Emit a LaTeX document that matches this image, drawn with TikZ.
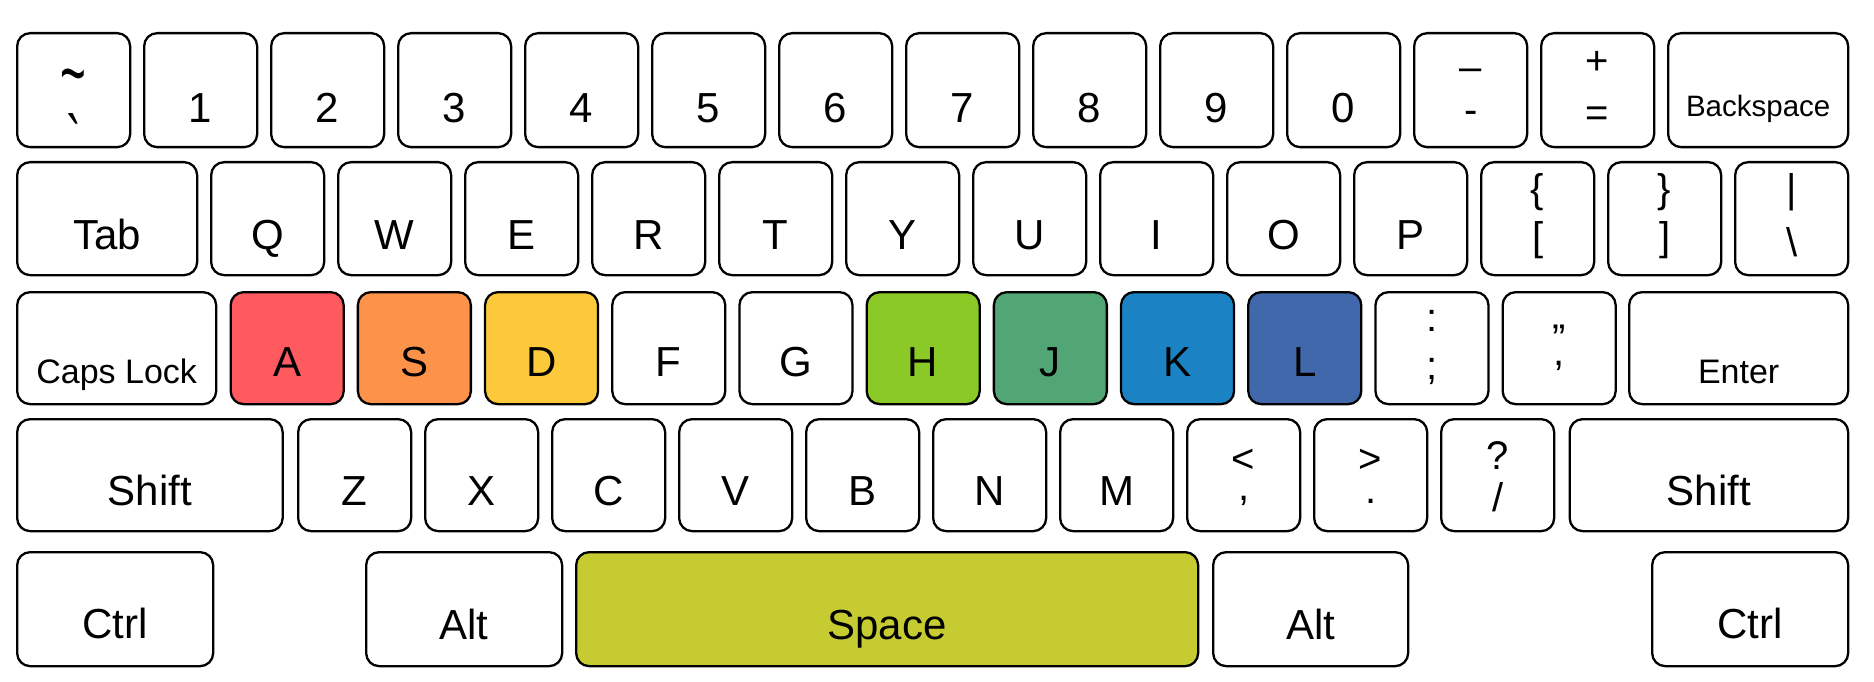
\documentclass[tikz,border=0pt]{standalone}
\usepackage{fontspec}
\setmainfont{Liberation Sans}
\usetikzlibrary{calc}
\definecolor{cA}{RGB}{255,90,95}
\definecolor{cS}{RGB}{253,146,74}
\definecolor{cD}{RGB}{252,201,58}
\definecolor{cH}{RGB}{139,201,38}
\definecolor{cJ}{RGB}{82,165,116}
\definecolor{cK}{RGB}{27,130,196}
\definecolor{cL}{RGB}{66,104,172}
\definecolor{cSp}{RGB}{197,203,48}
\tikzset{
  keybox/.style={draw=black, line width=2.3pt, rounded corners=13pt, rectangle, inner sep=0pt, anchor=north west},
  lab/.style={inner sep=0pt, anchor=base, font=\fontsize{42}{42}\selectfont},
  sym/.style={inner sep=0pt, anchor=base, font=\fontsize{40}{40}\selectfont},
  mid/.style={inner sep=0pt, anchor=base, font=\fontsize{34}{34}\selectfont},
  small/.style={inner sep=0pt, anchor=base, font=\fontsize{29.5}{29.5}\selectfont},
}
% key: name, x, y, width, height, fill
\newcommand\kbKey[6]{\node[keybox, fill=#6, minimum width=#4pt, minimum height=#5pt] (#1) at (#2,#3) {};}
% label: [style] name, key, baseline offset, text
\newcommand\kbLab[5][lab]{\node[#1] (#2) at ($(#3.north)+(0,#4)$) {#5};}
\begin{document}
\begin{tikzpicture}[x=1pt,y=-1pt]
\useasboundingbox (0,0) rectangle (1874,682);
\fill[white] (0,0) rectangle (1874,682);
% ---------- row 1
\kbKey{tl}{16}{32}{113}{114}{white}
\kbLab[sym]{tlu}{tl}{69}{\scalebox{1.1}[2]{\textasciitilde}}
\kbLab[sym]{tld}{tl}{134}{\scalebox{1.1}[1.8]{\textasciigrave}}
\foreach \i/\t in {1/1,2/2,3/3,4/4,5/5,6/6,7/7,8/8,9/9,10/0}{
  \kbKey{d\i}{16+127*\i}{32}{113}{114}{white}
  \kbLab{d\i t}{d\i}{91}{\t}
}
\kbKey{mn}{16+127*11}{32}{113}{114}{white}
\kbLab[sym]{mnu}{mn}{48.5}{\textendash}
\kbLab[sym]{mnd}{mn}{92}{-}
\kbKey{eq}{16+127*12}{32}{113}{114}{white}
\kbLab[sym]{equ}{eq}{42.8}{+}
\kbLab[sym]{eqd}{eq}{95}{=}
\kbKey{bs}{1667}{32}{180}{114}{white}
\kbLab[small]{bst}{bs}{85}{Backspace}
% ---------- row 2
\kbKey{tab}{16}{161}{180}{113}{white}
\kbLab{tabt}{tab}{88}{Tab}
\foreach \i/\t in {0/Q,1/W,2/E,3/R,4/T,5/Y,6/U,7/I,8/O,9/P}{
  \kbKey{q\i}{210+127*\i}{161}{113}{113}{white}
  \kbLab{q\i t}{q\i}{88}{\t}
}
\kbKey{lb}{210+127*10}{161}{113}{113}{white}
\kbLab[sym]{lbu}{lb}{41}{\{}
\kbLab[sym]{lbd}{lb}{89}{[}
\kbKey{rb}{210+127*11}{161}{113}{113}{white}
\kbLab[sym]{rbu}{rb}{41}{\}}
\kbLab[sym]{rbd}{rb}{89}{]}
\kbKey{bar}{210+127*12}{161}{113}{113}{white}
\kbLab[sym]{baru}{bar}{41}{\textbar}
\kbLab[sym]{bard}{bar}{95}{\textbackslash}
% ---------- row 3
\kbKey{caps}{16}{291}{199}{112}{white}
\kbLab[mid]{capst}{caps}{92}{Caps Lock}
\foreach \i/\t/\c in {0/A/cA,1/S/cS,2/D/cD,3/F/white,4/G/white,5/H/cH,6/J/cJ,7/K/cK,8/L/cL}{
  \kbKey{a\i}{229.5+127.2*\i}{291}{113}{112}{\c}
  \kbLab{a\i t}{a\i}{85}{\t}
}
\kbKey{sc}{229.5+127.2*9}{291}{113}{112}{white}
\kbLab[sym]{scu}{sc}{40}{:}
\kbLab[sym]{scd}{sc}{88}{;}
\kbKey{qt}{229.5+127.2*10}{291}{113}{112}{white}
\kbLab[sym]{qtu}{qt}{61}{\textquotedblright}
\kbLab[sym]{qtd}{qt}{74}{,}
\kbKey{ent}{1628}{291}{219}{112}{white}
\kbLab[mid]{entt}{ent}{92}{Enter}
% ---------- row 4
\kbKey{lsh}{16}{418}{265.5}{112}{white}
\kbLab{lsht}{lsh}{87}{Shift}
\foreach \i/\t in {0/Z,1/X,2/C,3/V,4/B,5/N,6/M}{
  \kbKey{z\i}{297+127*\i}{418}{113}{112}{white}
  \kbLab{z\i t}{z\i}{87}{\t}
}
\kbKey{lt}{297+127*7}{418}{113}{112}{white}
\kbLab[sym]{ltu}{lt}{54}{\textless}
\kbLab[sym]{ltd}{lt}{82}{,}
\kbKey{gt}{297+127*8}{418}{113}{112}{white}
\kbLab[sym]{gtu}{gt}{54}{\textgreater}
\kbLab[sym]{gtd}{gt}{85}{.}
\kbKey{qm}{297+127*9}{418}{113}{112}{white}
\kbLab[sym]{qmu}{qm}{51}{?}
\kbLab[sym]{qmd}{qm}{93}{/}
\kbKey{rsh}{1568.5}{418}{278.5}{112}{white}
\kbLab{rsht}{rsh}{87}{Shift}
% ---------- row 5
\kbKey{lctrl}{16}{551}{196}{114}{white}
\kbLab{lctrlt}{lctrl}{87.5}{Ctrl}
\kbKey{lalt}{365}{551}{196}{114}{white}
\kbLab{laltt}{lalt}{88}{Alt}
\kbKey{space}{575}{551}{622}{114}{cSp}
\kbLab{spacet}{space}{88}{Space}
\kbKey{ralt}{1212}{551}{195}{114}{white}
\kbLab{raltt}{ralt}{88}{Alt}
\kbKey{rctrl}{1651}{551}{196}{114}{white}
\kbLab{rctrlt}{rctrl}{87.5}{Ctrl}
\end{tikzpicture}
\end{document}
